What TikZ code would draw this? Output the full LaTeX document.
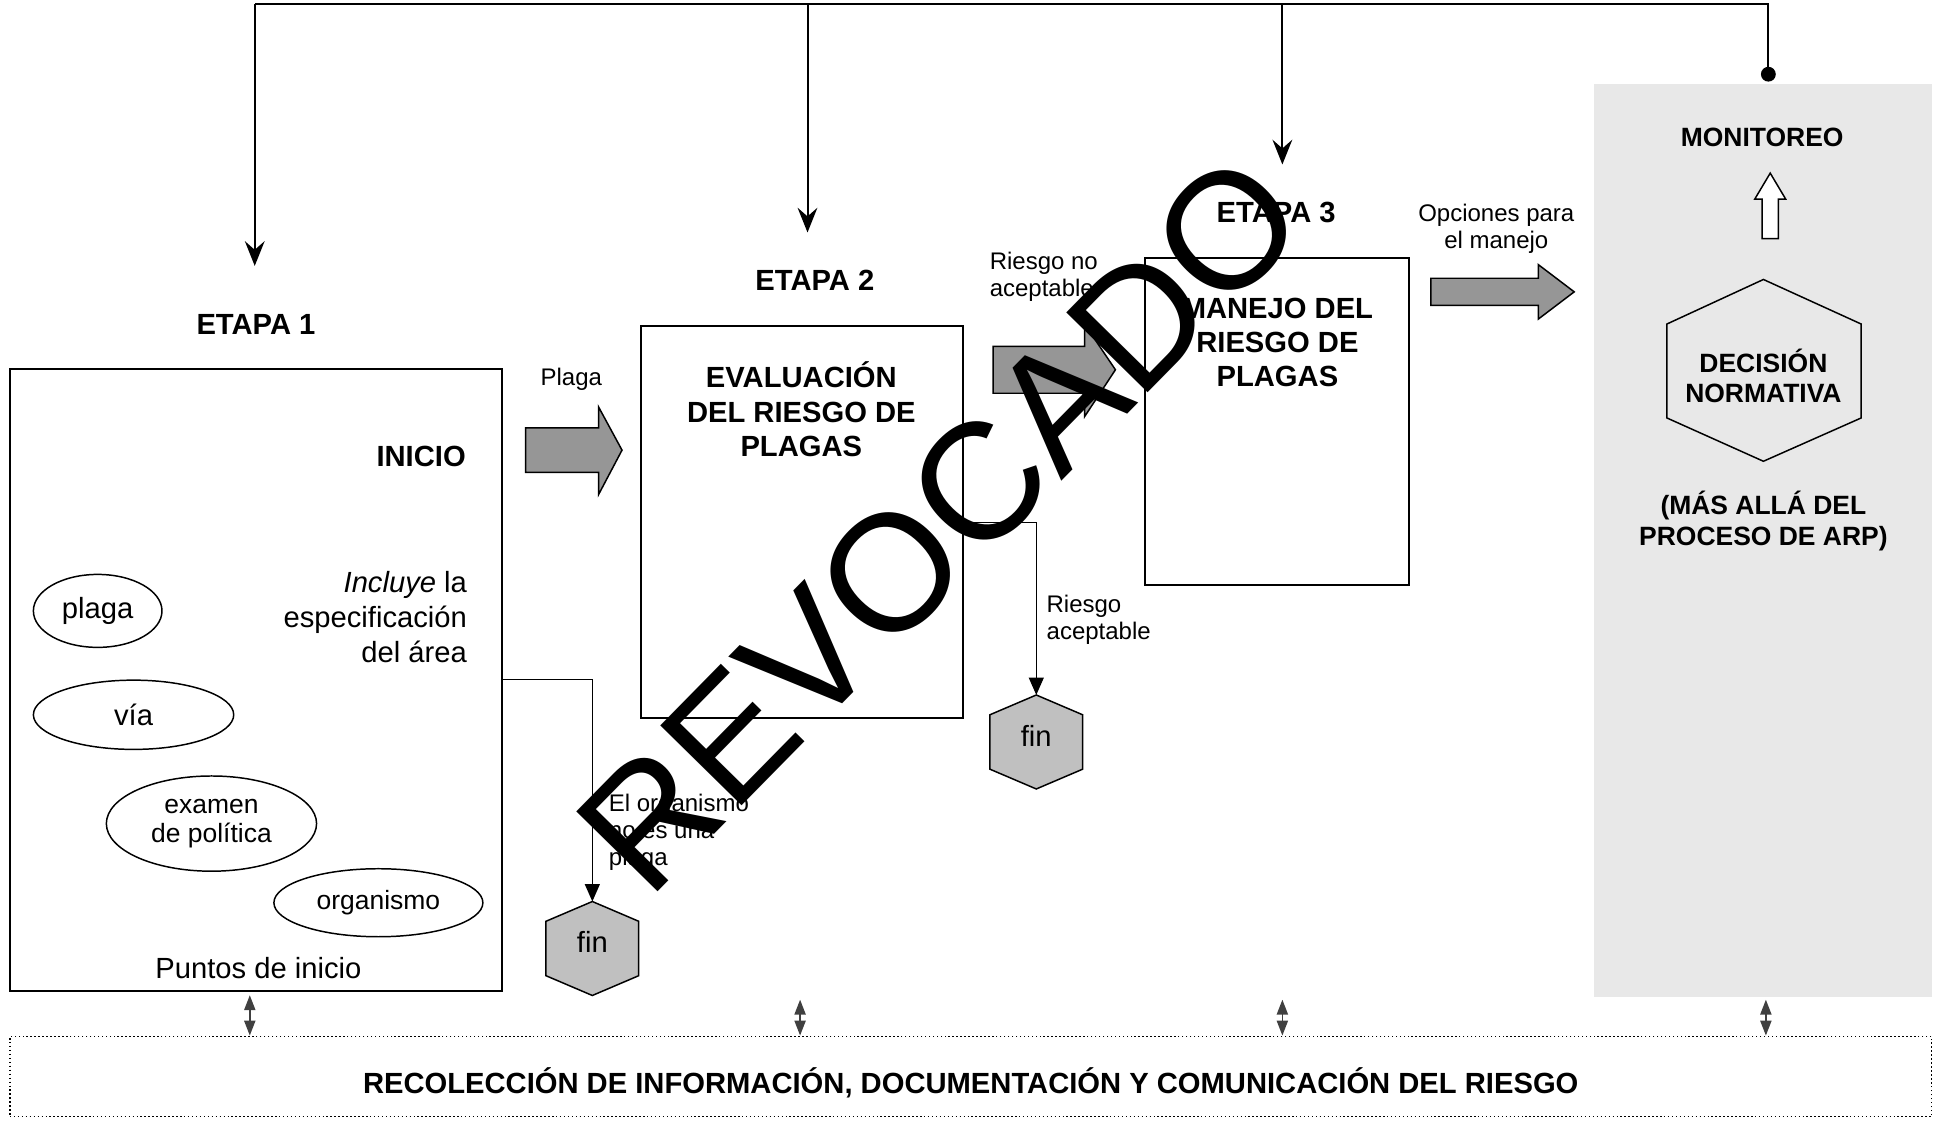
\documentclass[tikz,border=0pt]{standalone}
\usepackage{fontspec}
\setmainfont{Liberation Sans}
\usetikzlibrary{arrows.meta,shapes.geometric}
\definecolor{arrowgray}{HTML}{969696}
\definecolor{fingray}{HTML}{C0C0C0}
\definecolor{panelgray}{HTML}{E8E8E8}
\definecolor{dgray}{HTML}{404040}
\begin{document}
\begin{tikzpicture}[x=0.5pt,y=-0.5pt,
  stage/.style={draw, line width=0.8pt, inner sep=0pt},
  fbig/.style={font=\fontsize{11.8pt}{14pt}\selectfont},
  fbigb/.style={font=\fontsize{11.8pt}{13.8pt}\selectfont\bfseries},
  fmed/.style={font=\fontsize{10.7pt}{12pt}\selectfont},
  fmedb/.style={font=\fontsize{10.7pt}{12.5pt}\selectfont\bfseries},
  fsmall/.style={font=\fontsize{9.7pt}{11pt}\selectfont},
  oval/.style={ellipse, draw, line width=0.6pt, inner sep=0pt},
  garrow/.style={draw, line width=0.6pt, fill=arrowgray},
  finhex/.style={draw, line width=0.6pt, fill=fingray},
  conn/.style={line width=0.6pt, -{Triangle[length=7pt,width=6pt]}},
  feed/.style={line width=0.8pt, -{Stealth[length=10pt,width=8pt,inset=3.5pt]}},
  both/.style={draw=dgray, line width=0.6pt, {Triangle[length=6pt,width=4.5pt]}-{Triangle[length=6pt,width=4.5pt]}},
]
\useasboundingbox (0,0) rectangle (1568,906);

% grey panel
\node[fill=panelgray, inner sep=0pt, minimum width=136.5pt, minimum height=369pt] (mon) at (1425.5,437) {};

% stage boxes
\node[stage, minimum width=199pt, minimum height=251.5pt] (b1) at (207,549.5) {};
\node[stage, minimum width=130.5pt, minimum height=158.5pt] (b2) at (648.5,422.5) {};
\node[stage, minimum width=106.5pt, minimum height=132pt] (b3) at (1032.5,341) {};

% bottom information box
\node[draw, densely dotted, line width=0.6pt, inner sep=0pt, minimum width=777pt, minimum height=32.5pt] (info) at (785,870.5) {};
\node[fbigb, text depth=0pt] (infotext) at (785,874)
  {RECOLECCIÓN DE INFORMACIÓN, DOCUMENTACIÓN Y COMUNICACIÓN DEL RIESGO};

% stage labels
\node[fbigb] (e1) at (207,262) {ETAPA 1};
\node[fbigb] (e2) at (659,227) {ETAPA 2};
\node[fbigb] (e3) at (1032,172) {ETAPA 3};

% box 1 content
\node[fbigb, anchor=east, inner sep=0pt] (inicio) at (377,369) {INICIO};
\node[fbig, anchor=east, align=right, inner sep=0pt] (incl) at (378,499) {\textit{Incluye} la\\especificación\\del área};
\node[oval, fbig, minimum width=52pt, minimum height=29.5pt] (plaga) at (79,494) {plaga};
\node[oval, fbig, minimum width=81pt, minimum height=28pt] (via) at (108,578) {vía};
\node[oval, fmed, align=center, minimum width=85pt, minimum height=38.5pt] (exam) at (171,666) {examen\\de política};
\node[oval, fmed, minimum width=84.5pt, minimum height=27.5pt] (org) at (306,730) {organismo};
\node[fbig] (pinicio) at (209,783) {Puntos de inicio};

% box 2 and 3 content
\node[fbigb, align=center] (t2) at (648,331) {EVALUACIÓN\\DEL RIESGO DE\\PLAGAS};
\node[fbigb, align=center] (t3) at (1033,277) {MANEJO DEL\\RIESGO DE\\PLAGAS};

% block arrows
\draw[garrow] (425,346) -- (484,346) -- (484,329) -- (503,364) -- (484,400) -- (484,382) -- (425,382) -- cycle;
\draw[garrow] (803,280) -- (877,280) -- (877,262) -- (902,299) -- (877,337) -- (877,318) -- (803,318) -- cycle;
\draw[garrow] (1157,225) -- (1244,225) -- (1244,214) -- (1273,236) -- (1244,258) -- (1244,247) -- (1157,247) -- cycle;

% labels of arrows
\node[fsmall] (lplaga) at (462,307) {Plaga};
\node[fsmall, align=left, anchor=west, inner sep=0pt] (lrna) at (800,224) {Riesgo no\\aceptable};
\node[fsmall, align=left, anchor=west, inner sep=0pt] (lra) at (846,501) {Riesgo\\aceptable};
\node[font=\fontsize{9.7pt}{10.8pt}\selectfont, align=left, anchor=west, inner sep=0pt] (lorg) at (492,673) {El organismo\\no es una\\plaga};
\node[fsmall, align=center] (lop) at (1210,185) {Opciones para\\el manejo};

% fin hexagons
\coordinate (f1) at (479,767);
\draw[finhex] (f1) ++(0,-38) -- ++(37.5,16) -- ++(0,44) -- ++(-37.5,16) -- ++(-37.5,-16) -- ++(0,-44) -- cycle;
\node[fbig, yshift=2.5pt] (fin1) at (f1) {fin};
\coordinate (f1top) at (479,729);
\coordinate (f2) at (838,600);
\draw[finhex] (f2) ++(0,-38) -- ++(37.5,16) -- ++(0,44) -- ++(-37.5,16) -- ++(-37.5,-16) -- ++(0,-44) -- cycle;
\node[fbig, yshift=2.5pt] (fin2) at (f2) {fin};
\coordinate (f2top) at (838,562);

\draw[conn] (b1.east) -| (f1top);
\draw[conn] (b2.east) -| (f2top);

% monitoring panel content
\node[fmedb] (moni) at (1425,111) {MONITOREO};
\draw[fill=white, line width=0.6pt] (1425,193) -- (1425,161) -- (1419,161) -- (1431.5,140) -- (1444,161) -- (1438,161) -- (1438,193) -- cycle;
\coordinate (hx) at (1426,300);
\draw[line width=0.6pt] (hx) ++(0,-74) -- ++(79,36) -- ++(0,76) -- ++(-79,35) -- ++(-78,-35) -- ++(0,-76) -- cycle;
\node[fmedb, align=center] (dec) at (1426,304) {DECISIÓN\\NORMATIVA};
\node[fmedb, align=center] (mas) at (1426,421) {(MÁS ALLÁ DEL\\PROCESO DE ARP)};

% feedback from monitoring
\node[circle, fill, inner sep=0pt, minimum size=6pt] (dot) at (1430,60) {};
\coordinate (c1) at (206,3);
\coordinate (c2) at (653,3);
\coordinate (c3) at (1037,3);
\coordinate (a1) at (206,215);
\coordinate (a2) at (653,188);
\coordinate (a3) at (1037,133);
\draw[line width=0.8pt] (dot.center) |- (c1);
\draw[feed] (c1) -- (a1);
\draw[feed] (c2) -- (a2);
\draw[feed] (c3) -- (a3);

% double arrows to information box
\coordinate (d1) at (202,0);
\coordinate (d2) at (647,0);
\coordinate (d3) at (1037,0);
\coordinate (d4) at (1428,0);
\draw[both] ([yshift=-1.5pt]d1 |- b1.south) -- (d1 |- info.north);
\draw[both] ([yshift=-1pt]d2 |- mon.south) -- (d2 |- info.north);
\draw[both] ([yshift=-1pt]d3 |- mon.south) -- (d3 |- info.north);
\draw[both] ([yshift=-1pt]d4 |- mon.south) -- (d4 |- info.north);

% watermark
\node[font=\fontsize{67pt}{67pt}\selectfont, rotate=45.5, inner sep=0pt] (wm) at (760,423) {REVOCADO};
\end{tikzpicture}
\end{document}
